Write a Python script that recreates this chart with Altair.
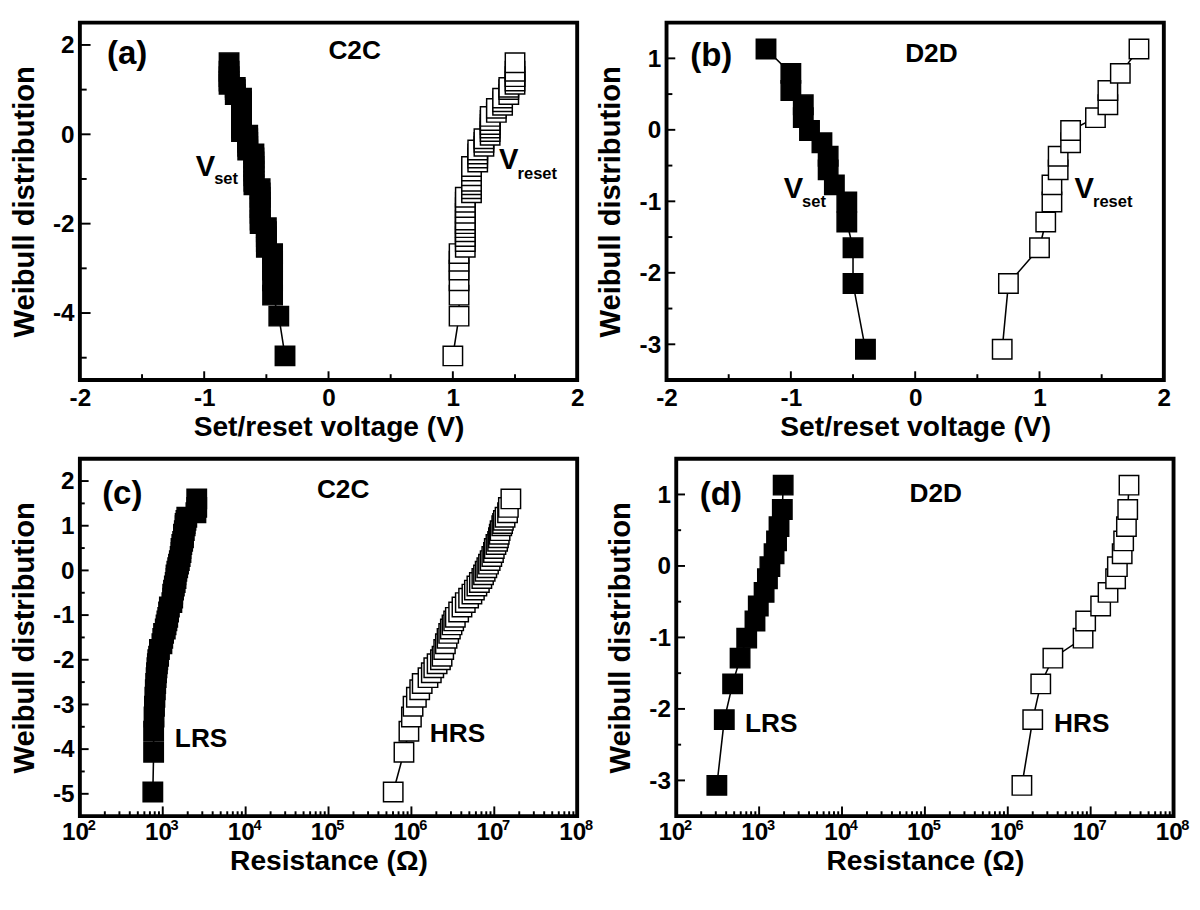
import altair as alt
import pandas as pd

FONT = "Liberation Sans"
W, H = 512, 368

# ---------------- data ----------------
# C2C Weibull plotting positions (shared by the two series of each C2C panel)
c2c_weibull = [-4.96, -4.07, -3.60, -3.28, -3.04, -2.84, -2.67, -2.53, -2.40, -2.29,
               -2.18, -2.09, -2.00, -1.92, -1.77, -1.64, -1.52, -1.41, -1.31, -1.22,
               -1.13, -1.05, -0.93, -0.82, -0.72, -0.62, -0.53, -0.44, -0.35, -0.27,
               -0.18, -0.10, -0.02, 0.06, 0.14, 0.22, 0.31, 0.40, 0.49, 0.58,
               0.65, 0.73, 0.81, 0.89, 1.00, 1.05, 1.12, 1.19, 1.29, 1.41, 1.60]
# (a) set voltage (V)
c2c_vset = [-0.35, -0.40, -0.45, -0.45, -0.45, -0.45, -0.45, -0.50, -0.50, -0.50,
            -0.50, -0.50, -0.55, -0.55, -0.55, -0.55, -0.55, -0.55, -0.55, -0.55,
            -0.60, -0.60, -0.60, -0.60, -0.60, -0.60, -0.60, -0.60, -0.65, -0.65,
            -0.65, -0.65, -0.65, -0.70, -0.70, -0.70, -0.70, -0.70, -0.70, -0.70,
            -0.70, -0.70, -0.70, -0.75, -0.75, -0.75, -0.80, -0.80, -0.80, -0.80, -0.80]
# (a) reset voltage (V)
c2c_vreset = [1.00, 1.05, 1.05, 1.05, 1.05, 1.05, 1.05, 1.10, 1.10, 1.10,
              1.10, 1.10, 1.10, 1.10, 1.10, 1.10, 1.10, 1.10, 1.15, 1.15,
              1.15, 1.15, 1.15, 1.15, 1.15, 1.20, 1.20, 1.20, 1.20, 1.25,
              1.25, 1.25, 1.30, 1.30, 1.30, 1.30, 1.30, 1.30, 1.35, 1.35,
              1.40, 1.40, 1.40, 1.45, 1.45, 1.45, 1.50, 1.50, 1.50, 1.50, 1.50]
# (c) LRS resistance (ohm)
c2c_lrs = [759, 776, 776, 785, 794, 804, 813, 822, 832, 841,
           851, 861, 871, 891, 912, 977, 1000, 1023, 1072, 1096,
           1122, 1148, 1175, 1202, 1288, 1318, 1318, 1349, 1380, 1413,
           1445, 1445, 1479, 1514, 1549, 1585, 1622, 1660, 1660, 1698,
           1738, 1778, 1778, 1820, 1862, 1862, 1905, 1950, 2512, 2570, 2570]
# (c) HRS resistance (ohm)
c2c_hrs = [6.03e5, 8.13e5, 9.33e5, 1.00e6, 1.047e6, 1.148e6, 1.259e6, 1.349e6, 1.585e6, 1.738e6,
           1.862e6, 2.042e6, 2.239e6, 2.344e6, 2.455e6, 2.570e6, 2.692e6, 2.818e6, 2.951e6, 3.090e6,
           3.236e6, 3.388e6, 3.715e6, 4.074e6, 4.467e6, 4.898e6, 5.370e6, 5.754e6, 6.166e6, 6.607e6,
           7.079e6, 7.413e6, 7.762e6, 8.128e6, 8.511e6, 8.913e6, 9.333e6, 9.772e6, 1.000e7, 1.047e7,
           1.096e7, 1.122e7, 1.148e7, 1.175e7, 1.230e7, 1.259e7, 1.288e7, 1.349e7, 1.445e7, 1.479e7, 1.585e7]

# D2D Weibull plotting positions
d2d_weibull = [-3.07, -2.15, -1.65, -1.29, -1.01, -0.77, -0.56, -0.37, -0.18, -0.01,
               0.17, 0.35, 0.55, 0.79, 1.13]
d2d_vset = [-0.40, -0.50, -0.50, -0.55, -0.55, -0.65, -0.70, -0.70, -0.75, -0.85,
            -0.90, -0.90, -1.00, -1.00, -1.20]
d2d_vreset = [0.70, 0.75, 1.00, 1.05, 1.10, 1.10, 1.15, 1.15, 1.25, 1.25,
              1.45, 1.55, 1.55, 1.65, 1.80]
d2d_lrs = [309, 380, 479, 589, 708, 891, 977, 1148, 1259, 1349,
           1514, 1622, 1738, 1905, 1950]
d2d_hrs = [1.48e6, 2.0e6, 2.5e6, 3.5e6, 8.1e6, 8.7e6, 1.32e7, 1.62e7, 2.0e7, 2.1e7,
           2.4e7, 2.5e7, 2.7e7, 2.8e7, 2.9e7]

# axis tick values and labels
volt_labels = [-2, -1, 0, 1, 2]
volt_minor = [-1.5, -0.5, 0.5, 1.5]
res_labels = [1e2, 1e3, 1e4, 1e5, 1e6, 1e7, 1e8]
res_exponents = ["2", "3", "4", "5", "6", "7", "8"]
res_minor = [m * 10 ** k for k in range(2, 8) for m in range(2, 10)]
wa_labels, wa_minor = [2, 0, -2, -4], [1, -1, -3, -5]
wc_labels, wc_minor = [2, 1, 0, -1, -2, -3, -4, -5], [1.5, 0.5, -0.5, -1.5, -2.5, -3.5, -4.5]
wd_labels, wd_minor = [1, 0, -1, -2, -3], [0.5, -0.5, -1.5, -2.5]

VOLT_LABEL_PAD = 6
RES_LABEL_PAD = 4


def yaxis(values):
    return alt.Axis(values=values, labelExpr="'' + datum.value", title="Weibull distribution",
                    ticks=False, domain=False, grid=False, labelFont=FONT, labelFontSize=25,
                    labelFontWeight="bold", labelColor="black", labelPadding=6,
                    minExtent=36, maxExtent=36, titleFont=FONT, titleFontSize=30,
                    titleFontWeight="bold", titleColor="black", titlePadding=6,
                    labelOverlap=False)


def xaxis(kind):
    common = dict(ticks=False, domain=False, grid=False, labelFont=FONT, labelFontSize=25,
                  labelFontWeight="bold", labelColor="black", labelFlush=False,
                  labelOverlap=False, titleFont=FONT, titleFontSize=29,
                  titleFontWeight="bold", titleColor="black")
    if kind == "volt":
        return alt.Axis(values=volt_labels, labelExpr="'' + datum.value",
                        title="Set/reset voltage (V)", labelPadding=VOLT_LABEL_PAD,
                        titlePadding=3, **common)
    return alt.Axis(values=res_labels, labelExpr="'10'", labelOffset=-5,
                    title="Resistance (Ω)", labelPadding=RES_LABEL_PAD, titlePadding=3, **common)


def panel(xs, ys, xax, yax, series, xmaj, xmin, ymaj, ymin, xmaj_len, xmin_len,
          ymaj_len, ymin_len, texts, exponents=None):
    X = lambda f="x": alt.X(f"{f}:Q", scale=xs, axis=xax)
    Y = lambda f="y": alt.Y(f"{f}:Q", scale=ys, axis=yax)
    layers = []
    for xv, yv, filled in series:
        df = pd.DataFrame({"x": xv, "y": yv})
        layers.append(alt.Chart(df).mark_line(color="black", strokeWidth=1.6).encode(
            x=X(), y=Y(), order=alt.Order("y:Q")))
    # inward ticks
    for vals, ln in ((xmaj, xmaj_len), (xmin, xmin_len)):
        layers.append(alt.Chart(pd.DataFrame({"x": vals})).mark_rule(color="black", strokeWidth=2).encode(
            x=X(), y=alt.value(H), y2=alt.value(H - ln)))
    for vals, ln in ((ymaj, ymaj_len), (ymin, ymin_len)):
        layers.append(alt.Chart(pd.DataFrame({"y": vals})).mark_rule(color="black", strokeWidth=2).encode(
            y=Y(), x=alt.value(0), x2=alt.value(ln)))
    for xv, yv, filled in series:
        df = pd.DataFrame({"x": xv, "y": yv})
        mk = alt.Chart(df).mark_point(shape="square", size=400, filled=True,
                                      fill="black" if filled else "white",
                                      stroke="black", strokeWidth=1.5, opacity=1)
        layers.append(mk.encode(x=X(), y=Y()))
    for tx, ty, t, fs, dx, dy, align in texts:
        df = pd.DataFrame({"x": [tx], "y": [ty], "t": [t]})
        layers.append(alt.Chart(df).mark_text(font=FONT, fontSize=fs, fontWeight="bold",
                                              color="black", align=align, baseline="middle",
                                              dx=dx, dy=dy).encode(x=X(), y=Y(), text="t:N"))
    if exponents is not None:
        df = pd.DataFrame({"x": res_labels, "t": exponents})
        layers.append(alt.Chart(df).mark_text(font=FONT, fontSize=15, fontWeight="bold",
                                              color="black", align="left", baseline="top",
                                              dx=8).encode(
            x=X(), y=alt.value(H + RES_LABEL_PAD - 2), text="t:N"))
    return alt.layer(*layers).properties(width=W, height=H)


volt_scale = alt.Scale(domain=[-2, 2], nice=False, zero=False)
res_scale = alt.Scale(type="log", domain=[1e2, 1e8], nice=False)
wc2c_scale = alt.Scale(domain=[-5.5, 2.5], nice=False, zero=False)
wd2d_scale = alt.Scale(domain=[-3.5, 1.5], nice=False, zero=False)

pa = panel(volt_scale, wc2c_scale, xaxis("volt"), yaxis(wa_labels),
           [(c2c_vset, c2c_weibull, True), (c2c_vreset, c2c_weibull, False)],
           volt_labels, volt_minor, wa_labels, wa_minor, 9, 6, 11, 7,
           [(-1.62, 1.80, "(a)", 34, 0, 0, "center"),
            (0.21, 1.85, "C2C", 27, 0, 0, "center"),
            (-0.99, -0.73, "V", 30, 0, 0, "center"),
            (-0.99, -0.73, "set", 17, 9, 13, "left"),
            (1.45, -0.58, "V", 30, 0, 0, "center"),
            (1.45, -0.58, "reset", 17, 9, 14, "left")])

pb = panel(volt_scale, wd2d_scale, xaxis("volt"), yaxis(wd_labels),
           [(d2d_vset, d2d_weibull, True), (d2d_vreset, d2d_weibull, False)],
           volt_labels, volt_minor, wd_labels, wd_minor, 9, 6, 9, 6,
           [(-1.64, 1.03, "(b)", 34, 0, 0, "center"),
            (0.13, 1.06, "D2D", 27, 0, 0, "center"),
            (-0.98, -0.83, "V", 30, 0, 0, "center"),
            (-0.98, -0.83, "set", 17, 9, 13, "left"),
            (1.36, -0.83, "V", 30, 0, 0, "center"),
            (1.36, -0.83, "reset", 17, 9, 13, "left")])

pc = panel(res_scale, wc2c_scale, xaxis("res"), yaxis(wc_labels),
           [(c2c_lrs, c2c_weibull, True), (c2c_hrs, c2c_weibull, False)],
           res_labels, res_minor, wc_labels, wc_minor, 10, 5, 9, 5,
           [(325, 1.70, "(c)", 34, 0, 0, "center"),
            (1.5e5, 1.79, "C2C", 27, 0, 0, "center"),
            (2900, -3.78, "LRS", 27, 0, 0, "center"),
            (3.6e6, -3.66, "HRS", 27, 0, 0, "center")],
           exponents=res_exponents)

pd_ = panel(res_scale, wd2d_scale, xaxis("res"), yaxis(wd_labels),
            [(d2d_lrs, d2d_weibull, True), (d2d_hrs, d2d_weibull, False)],
            res_labels, res_minor, wd_labels, wd_minor, 10, 5, 9, 5,
            [(345, 0.99, "(d)", 34, 0, 0, "center"),
             (1.35e5, 1.00, "D2D", 27, 0, 0, "center"),
             (1400, -2.21, "LRS", 27, 0, 0, "center"),
             (7.8e6, -2.21, "HRS", 27, 0, 0, "center")],
            exponents=res_exponents)

top = alt.hconcat(pa, pb, spacing=9)
bottom = alt.hconcat(pc, pd_, spacing=9)
chart = alt.vconcat(top, bottom, spacing=14).properties(
    padding={"left": 0, "top": 0, "right": 0, "bottom": 0}
).configure(background="white", view=alt.ViewConfig(stroke="black", strokeWidth=4))

chart.save("out.html", embed_options={"renderer": "svg", "actions": False})
